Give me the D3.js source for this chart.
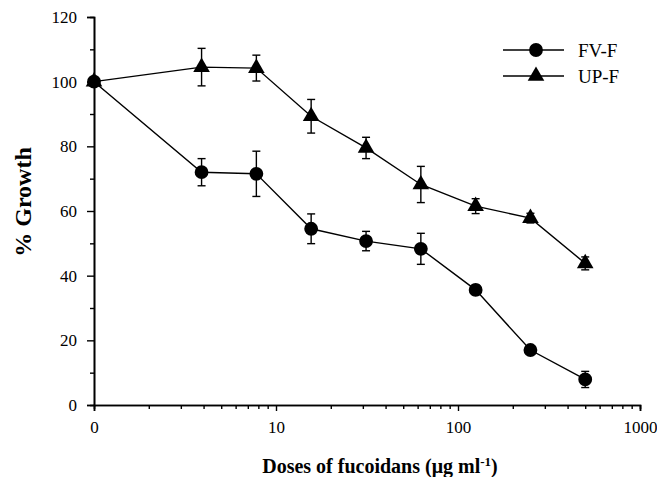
<!DOCTYPE html>
<html>
<head>
<meta charset="utf-8">
<script src="https://cdn.jsdelivr.net/npm/d3@7"></script>
<style>
body { margin: 0; background: #fff; }
svg { font-family: "Liberation Serif", "Times New Roman", serif; }
</style>
</head>
<body>
<div id="chart"></div>
<script>
var svgWidth = 657;
var svgHeight = 477;

// dose 0 is drawn at 1 on the log axis
var doses = [1, 3.9, 7.8, 15.6, 31.25, 62.5, 125, 250, 500];
var fvf = [100, 72, 71.5, 54.5, 50.7, 48.3, 35.6, 17, 7.9];
var fvfErr = [0, 4.2, 7, 4.6, 3, 4.8, 1.5, 1.2, 2.5];
var upf = [100, 104.5, 104.2, 89.3, 79.5, 68.2, 61.5, 57.8, 43.8];
var upfErr = [0, 5.8, 4, 5.2, 3.3, 5.6, 2.3, 1.5, 2];

var xMajor = [1, 10, 100, 1000];
var xMinor = [2, 3, 4, 5, 6, 7, 8, 9, 20, 30, 40, 50, 60, 70, 80, 90, 200, 300, 400, 500, 600, 700, 800, 900];
var yMajor = [0, 20, 40, 60, 80, 100, 120];
var yMinor = [10, 30, 50, 70, 90, 110];

var seriesNames = ["FV-F", "UP-F"];

var svg = d3.select("#chart")
	.append("svg")
	.attr("width", svgWidth)
	.attr("height", svgHeight);

var x = d3.scaleLog()
	.domain([1, 1000])
	.range([94, 640]);

var y = d3.scaleLinear()
	.domain([0, 120])
	.range([405, 17]);

// axes
svg.append("g")
	.attr("transform", "translate(0,405)")
	.call(d3.axisBottom(x).tickValues(xMajor).tickSize(6).tickPadding(10)
		.tickFormat(d => d === 1 ? "0" : d));

svg.append("g")
	.attr("transform", "translate(0,405)")
	.call(d3.axisBottom(x).tickValues(xMinor).tickSize(4).tickFormat(""));

svg.append("g")
	.attr("transform", "translate(94,0)")
	.call(d3.axisLeft(y).tickValues(yMajor).tickSize(7).tickPadding(10));

svg.append("g")
	.attr("transform", "translate(94,0)")
	.call(d3.axisLeft(y).tickValues(yMinor).tickSize(4).tickFormat(""));

svg.selectAll(".domain").attr("stroke", "#000").attr("stroke-width", 1.6);
svg.selectAll(".tick line").attr("stroke", "#000").attr("stroke-width", 1.4);
svg.selectAll(".tick text")
	.attr("fill", "#000")
	.style("font-size", "17px")
	.style("font-family", "Liberation Serif, serif");

// axis titles
svg.append("text")
	.attr("x", 380)
	.attr("y", 473)
	.attr("text-anchor", "middle")
	.style("font-size", "20px")
	.style("font-weight", "bold")
	.html("Doses of fucoidans (\u03BCg ml<tspan dy='-7' font-size='13'>-1</tspan><tspan dy='7'>)</tspan>");

svg.append("text")
	.attr("transform", "translate(31,202) rotate(-90)")
	.attr("text-anchor", "middle")
	.style("font-size", "24px")
	.style("font-weight", "bold")
	.text("% Growth");

var line = d3.line()
	.x(d => x(d[0]))
	.y(d => y(d[1]));

function drawSeries(vals, errs, symbol, size) {
	var pts = doses.map((d, i) => [d, vals[i], errs[i]]);

	svg.append("path")
		.datum(pts)
		.attr("d", line)
		.attr("fill", "none")
		.attr("stroke", "#000")
		.attr("stroke-width", 1.4);

	var bars = svg.append("g")
		.selectAll("g")
		.data(pts.filter(d => d[2] > 0))
		.enter()
		.append("g")
		.attr("stroke", "#000")
		.attr("stroke-width", 1.4);

	bars.append("line")
		.attr("x1", d => x(d[0]))
		.attr("x2", d => x(d[0]))
		.attr("y1", d => y(d[1] + d[2]))
		.attr("y2", d => y(d[1] - d[2]));

	bars.append("line")
		.attr("x1", d => x(d[0]) - 4)
		.attr("x2", d => x(d[0]) + 4)
		.attr("y1", d => y(d[1] + d[2]))
		.attr("y2", d => y(d[1] + d[2]));

	bars.append("line")
		.attr("x1", d => x(d[0]) - 4)
		.attr("x2", d => x(d[0]) + 4)
		.attr("y1", d => y(d[1] - d[2]))
		.attr("y2", d => y(d[1] - d[2]));

	svg.append("g")
		.selectAll("path")
		.data(pts)
		.enter()
		.append("path")
		.attr("d", d3.symbol().type(symbol).size(size))
		.attr("transform", d => `translate(${x(d[0])},${y(d[1])})`)
		.attr("fill", "#000");
}

drawSeries(upf, upfErr, d3.symbolTriangle, 120);
drawSeries(fvf, fvfErr, d3.symbolCircle, 150);

// legend
var legend = svg.append("g");
var legendSymbols = [d3.symbolCircle, d3.symbolTriangle];
var legendSizes = [150, 120];

seriesNames.forEach(function(name, i) {
	var ly = 50 + i * 26;
	legend.append("line")
		.attr("x1", 503).attr("x2", 564)
		.attr("y1", ly).attr("y2", ly)
		.attr("stroke", "#000")
		.attr("stroke-width", 1.4);
	legend.append("path")
		.attr("d", d3.symbol().type(legendSymbols[i]).size(legendSizes[i]))
		.attr("transform", `translate(536,${ly})`)
		.attr("fill", "#000");
	legend.append("text")
		.attr("x", 578)
		.attr("y", ly + 7)
		.style("font-size", "19px")
		.text(name);
});
</script>
</body>
</html>
